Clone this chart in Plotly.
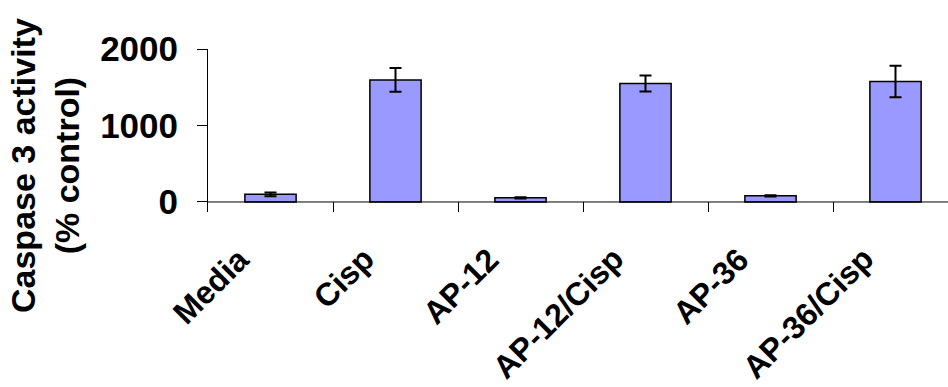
import plotly.graph_objects as go

# Caspase 3 activity per treatment group (% of control)
categories = ["Media", "Cisp", "AP-12", "AP-12/Cisp", "AP-36", "AP-36/Cisp"]
activity = [100, 1595, 55, 1550, 80, 1575]
activity_err = [25, 155, 8, 105, 8, 205]
y_ticks = [0, 1000, 2000]

W, H = 948, 387
L, R, T, B = 208, 0, 49, 175
PW = W - L - R
PH = H - T - B

FONT = "Liberation Sans, Arial, sans-serif"

fig = go.Figure(
    go.Bar(
        x=categories,
        y=activity,
        width=0.41,
        marker=dict(color="#9999FF", line=dict(color="#000000", width=1.5)),
        error_y=dict(
            type="data",
            array=activity_err,
            symmetric=True,
            color="#000000",
            thickness=2,
            width=6,
        ),
    )
)

# baseline at zero, running across the full plot width
fig.add_shape(
    type="line", xref="paper", yref="y",
    x0=0, x1=1, y0=0, y1=0,
    line=dict(color="#000000", width=1),
)

# slanted category labels, hanging below-left of each category
for cat in categories:
    fig.add_annotation(
        text=f"<b>{cat}</b>",
        textangle=-45,
        xref="x", yref="paper",
        x=cat, y=1 - (238 - T) / PH,
        xanchor="right", yanchor="top",
        xshift=-12,
        showarrow=False,
        font=dict(family=FONT, size=32, color="#000000"),
    )

fig.add_annotation(
    text="<b>Caspase 3 activity<br>(% control)</b>",
    textangle=-90,
    xref="paper", yref="paper",
    x=(45 - L) / PW, y=1 - (166 - T) / PH,
    xanchor="center", yanchor="middle",
    showarrow=False,
    font=dict(family=FONT, size=34, color="#000000"),
)

fig.update_layout(
    width=W, height=H,
    margin=dict(l=L, r=R, t=T, b=B, pad=0),
    paper_bgcolor="#FFFFFF",
    plot_bgcolor="#FFFFFF",
    showlegend=False,
    bargap=0.59,
    font=dict(family=FONT, color="#000000"),
)

fig.update_xaxes(
    type="category",
    range=[-0.5, 5.42],
    showline=False,
    showgrid=False,
    zeroline=False,
    ticks="inside",
    tickson="boundaries",
    ticklen=10,
    tickwidth=1,
    tickcolor="#000000",
    showticklabels=False,
)

fig.update_yaxes(
    range=[-131, 2000],
    tickvals=y_ticks,
    ticktext=[f"<b>{v}</b>" for v in y_ticks],
    showline=True,
    linecolor="#000000",
    linewidth=1,
    showgrid=False,
    zeroline=False,
    ticks="outside",
    ticklen=10,
    tickwidth=1,
    tickcolor="#000000",
    ticklabelstandoff=12,
    tickfont=dict(family=FONT, size=35, color="#000000"),
)

fig.write_html("out.html")
